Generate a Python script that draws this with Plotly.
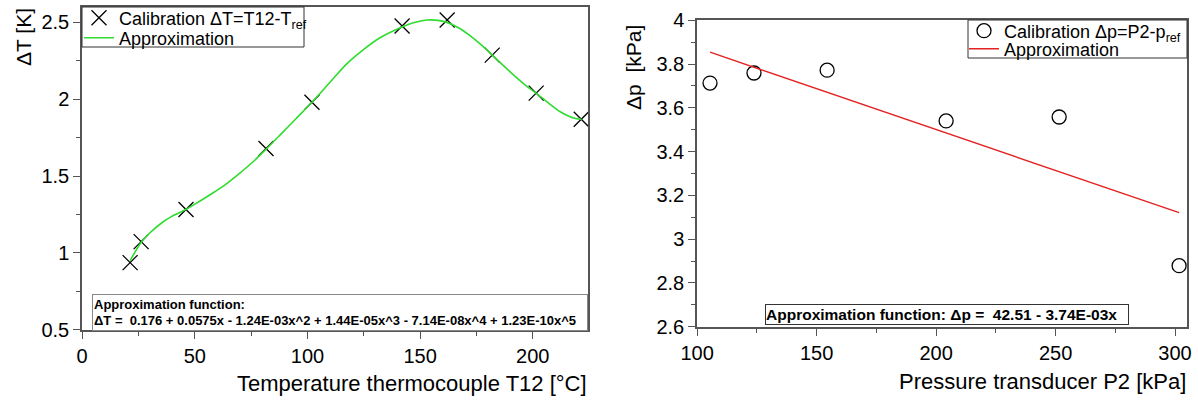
import plotly.graph_objects as go

W, H = 1198, 401


def px(x):
    return x / W


def py(y):
    return (H - y) / H


# ---------------- Left panel data (temperature calibration) ----------------
t12_cal = [21.3, 26.2, 46.1, 81.6, 102, 142, 162, 182, 201.5, 221.5]
dT_cal = [0.937, 1.074, 1.283, 1.68, 1.98, 2.476, 2.515, 2.287, 2.04, 1.87]

t12_fit = [21.3, 26, 30, 35.7, 40, 46, 52, 58, 64, 70, 76, 81.6, 88, 95, 102, 110,
           117.4, 125, 132.2, 142, 147, 152.9, 158, 161.8, 167, 172, 177, 181.8,
           186.5, 191.3, 196, 201.4, 207, 212, 216, 219, 221.7]
dT_fit = [0.95, 1.065, 1.13, 1.20, 1.24, 1.283, 1.335, 1.39, 1.45, 1.52, 1.595, 1.675,
          1.77, 1.875, 1.98, 2.11, 2.23, 2.325, 2.40, 2.47, 2.497, 2.515, 2.513, 2.50,
          2.465, 2.415, 2.355, 2.29, 2.225, 2.16, 2.10, 2.04, 1.975, 1.92, 1.89, 1.875, 1.87]

# ---------------- Right panel data (pressure calibration) ----------------
p2_cal = [105.4, 123.8, 154.4, 204.2, 251.5, 301.7]
dp_cal = [3.713, 3.759, 3.772, 3.540, 3.558, 2.879]
p2_fit = [105.4, 301.7]
dp_fit = [3.854, 3.121]

left_func_text = ("<b>Approximation function:<br>ΔT =\u00a0 0.176 + 0.0575x - 1.24E-03x^2 + "
                  "1.44E-05x^3 - 7.14E-08x^4 + 1.23E-10x^5</b>")
right_func_text = "<b>Approximation function: Δp =\u00a0 42.51 - 3.74E-03x</b>"

FONT = "Liberation Sans"
AX = "#555555"
GREEN = "#2fdc2f"
RED = "#e32222"

fig = go.Figure()

fig.add_trace(go.Scatter(
    x=t12_cal, y=dT_cal, mode="markers", name="Calibration ΔT=T12-T<sub>ref</sub>",
    marker=dict(symbol="x-thin-open", size=15, color="black", line=dict(color="black", width=1.3)),
    xaxis="x", yaxis="y", legend="legend"))
fig.add_trace(go.Scatter(
    x=t12_fit, y=dT_fit, mode="lines", name="Approximation",
    line=dict(color=GREEN, width=1.6, shape="spline", smoothing=0.8),
    xaxis="x", yaxis="y", legend="legend2"))

fig.add_trace(go.Scatter(
    x=p2_cal, y=dp_cal, mode="markers", name="Calibration Δp=P2-p<sub>ref</sub>",
    marker=dict(symbol="circle-open", size=14, color="black", line=dict(color="black", width=1.3)),
    xaxis="x2", yaxis="y2", legend="legend3"))
fig.add_trace(go.Scatter(
    x=p2_fit, y=dp_fit, mode="lines", name="Approximation",
    line=dict(color=RED, width=1.4),
    xaxis="x2", yaxis="y2", legend="legend4"))


def axis(domain, rng, dtick, mdtick, anchor):
    return dict(
        domain=domain, range=rng, dtick=dtick, tick0=0, anchor=anchor,
        ticks="outside", ticklen=7, tickwidth=1.3, tickcolor=AX,
        minor=dict(dtick=mdtick, ticks="outside", ticklen=4, tickwidth=1.3, tickcolor=AX, showgrid=False),
        showline=True, linecolor=AX, linewidth=1.5, mirror=True,
        showgrid=False, zeroline=False, automargin=False,
        tickfont=dict(family=FONT, size=20, color="black"),
    )


def leg(x_left, y_mid):
    return dict(
        bgcolor="rgba(0,0,0,0)", borderwidth=0,
        font=dict(family=FONT, size=18, color="black"),
        x=px(x_left), y=py(y_mid), xanchor="left", yanchor="middle",
        tracegroupgap=0, itemwidth=30,
    )


fig.update_layout(
    width=W, height=H,
    margin=dict(l=0, r=0, t=0, b=0, autoexpand=False),
    paper_bgcolor="white", plot_bgcolor="white",
    font=dict(family=FONT, color="black"),
    xaxis=axis([px(82), px(588)], [-0.05, 224.5], 50, 25, "y"),
    yaxis=axis([py(330), py(7)], [0.499, 2.6], 0.5, 0.25, "x"),
    xaxis2=axis([px(697), px(1187)], [99.95, 305], 50, 25, "y2"),
    yaxis2=axis([py(327), py(20)], [2.599, 4.001], 0.2, 0.1, "x2"),
    legend=leg(79, 18),
    legend2=leg(79, 38),
    legend3=leg(964, 31),
    legend4=leg(964, 49),
    showlegend=True,
    shapes=[
        dict(type="rect", xref="paper", yref="paper", x0=px(82), x1=px(304), y0=py(47), y1=py(7),
             fillcolor="white", line=dict(color="#333333", width=1), layer="above"),
        dict(type="rect", xref="paper", yref="paper", x0=px(968), x1=px(1187), y0=py(58), y1=py(20),
             fillcolor="white", line=dict(color="#333333", width=1), layer="above"),
    ],
)

ann = [
    # axis titles
    dict(text="ΔT [K]", x=px(23), y=py(37), textangle=-90,
         xanchor="center", yanchor="middle", font=dict(size=21)),
    dict(text="Temperature thermocouple T12 [°C]", x=px(589), y=py(383),
         xanchor="right", yanchor="middle", font=dict(size=22)),
    dict(text="Δp\u00a0 [kPa]", x=px(633), y=py(68), textangle=-90,
         xanchor="center", yanchor="middle", font=dict(size=21)),
    dict(text="Pressure transducer P2 [kPa]", x=px(1188), y=py(381),
         xanchor="right", yanchor="middle", font=dict(size=22)),
    # function boxes
    dict(text=left_func_text, x=px(92), y=py(294), xanchor="left", yanchor="top",
         align="left", font=dict(size=13), bgcolor="white", bordercolor="#888888",
         borderwidth=1, borderpad=1, width=492, height=33),
    dict(text=right_func_text, x=px(765), y=py(304), xanchor="left", yanchor="top",
         align="left", font=dict(size=15.5), bgcolor="white", bordercolor="#333333",
         borderwidth=1, borderpad=0, width=362, height=19),
]
for a in ann:
    a.update(xref="paper", yref="paper", showarrow=False)
    a["font"] = dict(family=FONT, color="black", **a["font"])
fig.update_layout(annotations=ann)

fig.write_html("out.html", config={"displayModeBar": False},
               post_script="document.body.style.margin='0';document.body.style.overflow='hidden';")
